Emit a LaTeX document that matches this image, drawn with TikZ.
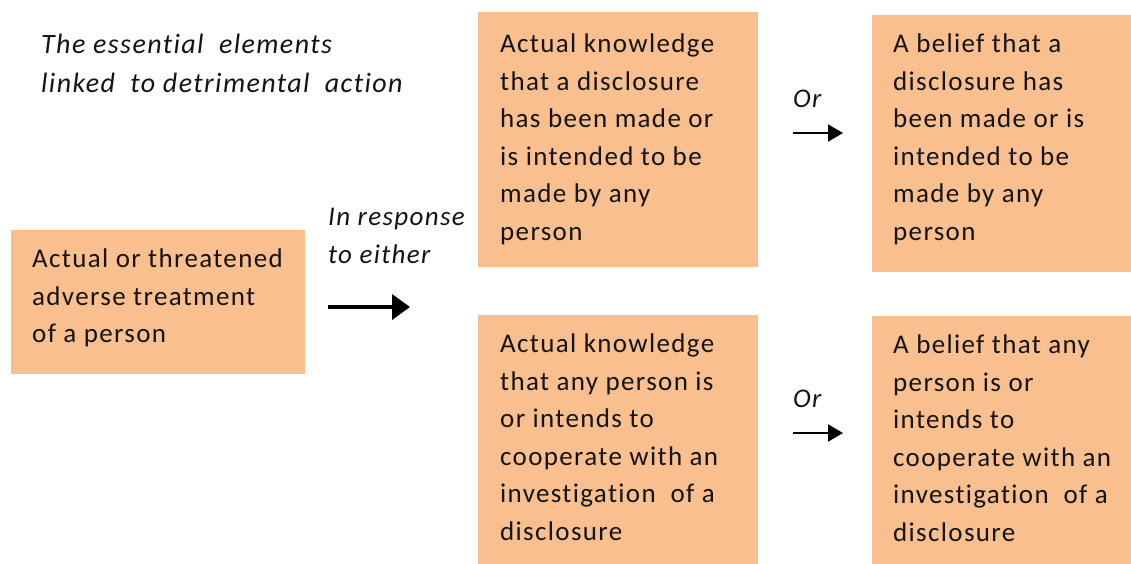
\documentclass[tikz,border=0pt]{standalone}
\usepackage{fontspec}
\setmainfont{Carlito}[LetterSpace=5,Ligatures=NoCommon]
\usetikzlibrary{arrows.meta}
\definecolor{boxfill}{RGB}{250,191,143}
\definecolor{ink}{RGB}{20,20,20}
\begin{document}
\begin{tikzpicture}[x=1pt,y=-1pt,
  box/.style={fill=boxfill, draw=none, anchor=north west, inner sep=0pt},
  txt/.style={anchor=north west, inner sep=0pt, align=left, text=ink,
    font=\fontsize{27}{37.5}\selectfont},
  lbl/.style={anchor=base west, inner sep=0pt, align=left, text=ink,
    font=\fontsize{27}{38}\selectfont\itshape},
  bigarrow/.style={-{Triangle[length=18pt,width=25pt]}, line width=4pt},
  orarrow/.style={-{Triangle[length=15pt,width=17pt]}, line width=2pt},
]
\useasboundingbox (0,0) rectangle (1131,563);

% boxes
\node[box, minimum width=294, minimum height=144] (adv) at (11,230) {};
\node[box, minimum width=280, minimum height=255] (k1) at (478,12) {};
\node[box, minimum width=300, minimum height=257] (b1) at (872,15) {};
\node[box, minimum width=280, minimum height=260] (k2) at (478,315) {};
\node[box, minimum width=300, minimum height=260] (b2) at (872,316) {};

% box texts
\node[txt] (advt) at (32,249) {Actual or threatened\\adverse treatment\\of a person};
\node[txt] (k1t) at (500,34) {Actual knowledge\\that a disclosure\\has been made or\\is intended to be\\made by any\\person};
\node[txt] (b1t) at (893,34) {A belief that a\\disclosure has\\been made or is\\intended to be\\made by any\\person};
\node[txt] (k2t) at (500,334) {Actual knowledge\\that any person is\\or intends to\\cooperate with an\\investigation\ \ of a\\disclosure};
\node[txt] (b2t) at (893,335) {A belief that any\\person is or\\intends to\\cooperate with an\\investigation\ \ of a\\disclosure};

% labels
\node[lbl, font=\fontsize{28}{39}\selectfont\itshape] (title) at (41,92) {The essential\ \ elements\\linked\ \ to detrimental\ \ action};
\node[lbl] (resp) at (328,263) {In response\\to either};
\node[lbl] (or1) at (793,107) {Or};
\node[lbl] (or2) at (793,407) {Or};

% arrows
\coordinate (a0) at (328,307);
\coordinate (a1) at (410,307);
\draw[bigarrow] (a0) -- (a1);
\coordinate (o1s) at (793,133);
\coordinate (o1e) at (843,133);
\draw[orarrow] (o1s) -- (o1e);
\coordinate (o2s) at (793,433);
\coordinate (o2e) at (843,433);
\draw[orarrow] (o2s) -- (o2e);
\end{tikzpicture}
\end{document}
